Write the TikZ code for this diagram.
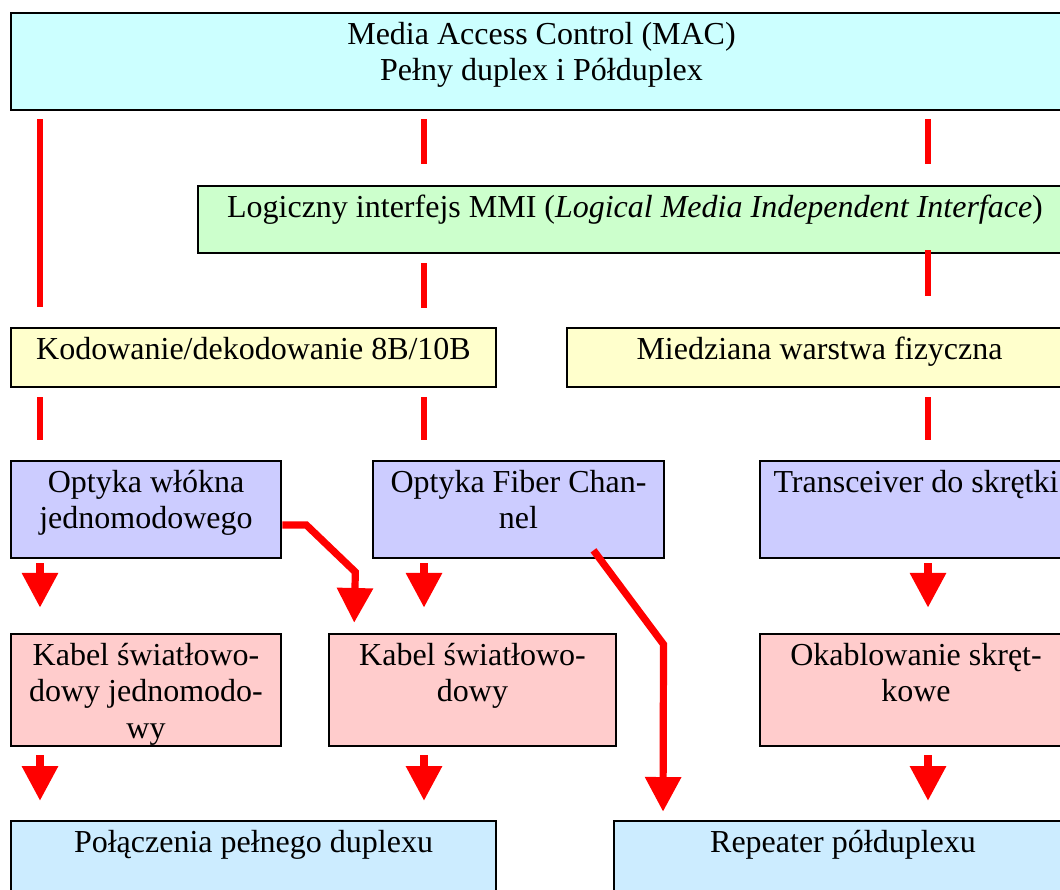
\documentclass[tikz,border=0pt]{standalone}
\usepackage{fontspec}
\setmainfont{Liberation Serif}
\usetikzlibrary{arrows.meta,fit}

\definecolor{macfill}{HTML}{CCFFFF}
\definecolor{logicfill}{HTML}{CCFFCC}
\definecolor{codefill}{HTML}{FFFFCC}
\definecolor{opticfill}{HTML}{CCCCFF}
\definecolor{cablefill}{HTML}{FFCCCC}
\definecolor{linkfill}{HTML}{CCECFF}

\begin{document}
\begin{tikzpicture}[x=0.375pt, y=-0.375pt,
    font=\fontsize{12}{13.8}\selectfont,
    box/.style={rectangle, draw, line width=1pt, inner sep=0pt},
    txt/.style={anchor=north, align=center, inner sep=0pt, yshift=-3.6pt},
    link/.style={red, line width=2.6pt},
    flow/.style={red, line width=2.7pt, -{Triangle[width=13pt, length=13pt]}}
]
    \useasboundingbox (0,0) rectangle (1060,889);
    \clip (0,0) rectangle (1060,889);

    \node (mac) [box, fill=macfill, fit={(11,13) (1072,110)},
        label={[txt]north:{Media Access Control (MAC)\\Pełny duplex i Półduplex}}] {};
    \node (logic) [box, fill=logicfill, fit={(198,186) (1072,253)},
        label={[txt]north:{Logiczny interfejs MMI (\textit{Logical Media Independent Interface})}}] {};

    \node (kod) [box, fill=codefill, fit={(11,328) (496,387)},
        label={[txt]north:{Kodowanie/dekodowanie 8B/10B}}] {};
    \node (mied) [box, fill=codefill, fit={(567,328) (1072,387)},
        label={[txt]north:{Miedziana warstwa fizyczna}}] {};

    \node (wlokna) [box, fill=opticfill, fit={(11,461) (281,558)},
        label={[txt]north:{Optyka włókna\\jednomodowego}}] {};
    \node (fiber) [box, fill=opticfill, fit={(373,461) (664,558)},
        label={[txt]north:{Optyka Fiber Chan-\\nel}}] {};
    \node (trans) [box, fill=opticfill, fit={(760,461) (1072,558)},
        label={[txt]north:{Transceiver do skrętki}}] {};

    \node (kabel1) [box, fill=cablefill, fit={(11,634) (281,746)},
        label={[txt]north:{Kabel światłowo-\\dowy jednomodo-\\wy}}] {};
    \node (kabel2) [box, fill=cablefill, fit={(329,634) (616,746)},
        label={[txt]north:{Kabel światłowo-\\dowy}}] {};
    \node (okab) [box, fill=cablefill, fit={(760,634) (1072,746)},
        label={[txt]north:{Okablowanie skręt-\\kowe}}] {};

    \node (full) [box, fill=linkfill, fit={(11,821) (496,900)},
        label={[txt]north:{Połączenia pełnego duplexu}}] {};
    \node (rep) [box, fill=linkfill, fit={(614,821) (1072,900)},
        label={[txt]north:{Repeater półduplexu}}] {};

    % columns of the connectors
    \coordinate (c1) at (40,0);
    \coordinate (c2) at (424,0);
    \coordinate (c3) at (928,0);
    \coordinate (k1) at (354,0);
    \coordinate (r1) at (663,0);

    \draw[link, shorten <=3pt, shorten >=7.5pt] (c1 |- mac.south) to (c1 |- kod.north);
    \draw[link, shorten <=3pt, shorten >=7.9pt] (c2 |- mac.south) to (c2 |- logic.north);
    \draw[link, shorten <=3pt, shorten >=7.9pt] (c3 |- mac.south) to (c3 |- logic.north);
    \draw[link, shorten <=3.4pt, shorten >=7.1pt] (c2 |- logic.south) to (c2 |- kod.north);
    \draw[link, shorten <=-1.5pt, shorten >=11.6pt] (c3 |- logic.south) to (c3 |- mied.north);

    \draw[link, shorten <=3.4pt, shorten >=7.5pt] (c1 |- kod.south) to (c1 |- wlokna.north);
    \draw[link, shorten <=3.4pt, shorten >=7.5pt] (c2 |- kod.south) to (c2 |- fiber.north);
    \draw[link, shorten <=3.4pt, shorten >=7.5pt] (c3 |- mied.south) to (c3 |- trans.north);

    \draw[flow, shorten <=1.5pt, shorten >=9.4pt] (c1 |- wlokna.south) to (c1 |- kabel1.north);
    \draw[flow, shorten <=1.5pt, shorten >=9.4pt] (c2 |- fiber.south) to (c2 |- kabel2.north);
    \draw[flow, shorten <=1.5pt, shorten >=9.4pt] (c3 |- trans.south) to (c3 |- okab.north);
    \draw[flow, shorten >=3.75pt] ([shift={(0,15.5)}]wlokna.east) -- ++(24,0) -- ++(49,47) -- (k1 |- kabel2.north);
    \draw[flow, shorten >=3pt] ([shift={(75,-9)}]fiber.south) -- ++(70,94) -- (r1 |- rep.north);

    \draw[flow, shorten <=3pt, shorten >=7.1pt] (c1 |- kabel1.south) to (c1 |- full.north);
    \draw[flow, shorten <=3pt, shorten >=7.1pt] (c2 |- kabel2.south) to (c2 |- full.north);
    \draw[flow, shorten <=3pt, shorten >=7.1pt] (c3 |- okab.south) to (c3 |- rep.north);
\end{tikzpicture}
\end{document}
